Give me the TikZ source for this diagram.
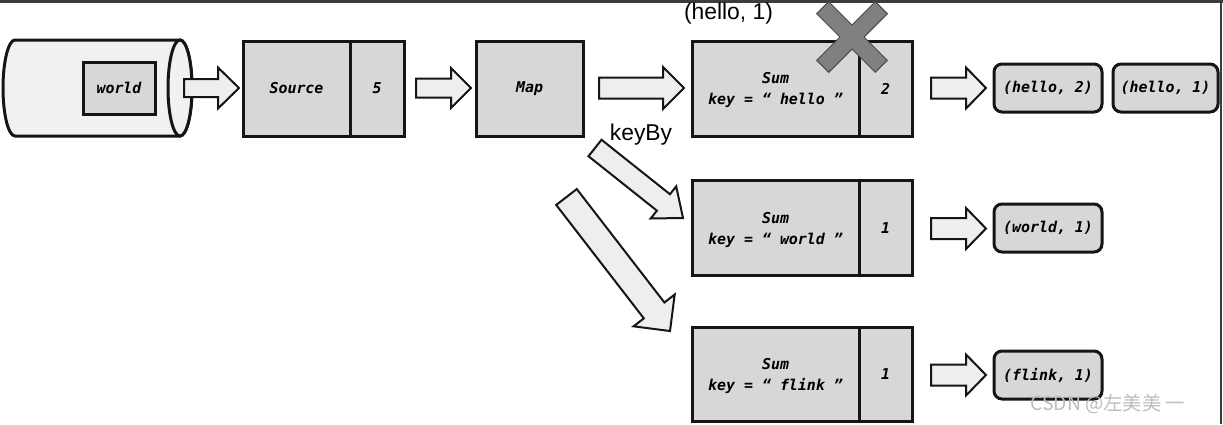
\documentclass[tikz,border=0pt]{standalone}
\usepackage{fontspec}
\setmainfont{Liberation Sans}
\newfontfamily\codefont{DejaVu Sans Mono}
\newfontfamily\cjkfont{Noto Sans CJK SC}
\usetikzlibrary{calc}
\newdimen\pxu \pxu=0.02cm
\definecolor{linec}{HTML}{151515}
\definecolor{boxc}{HTML}{D7D7D7}
\definecolor{arrc}{HTML}{EEEEEE}
\definecolor{cylc}{HTML}{F1F1F1}
\definecolor{xc}{HTML}{808080}
\definecolor{xline}{HTML}{4A4A4A}
\definecolor{topc}{HTML}{3C3C3C}
\definecolor{wmc}{HTML}{BDBDBD}
\tikzset{
  codetext/.style={font=\codefont\bfseries\itshape\fontsize{8.5}{12}\selectfont},
  box/.style={draw=linec, fill=boxc, line width=3\pxu, inner sep=0, outer sep=0,
    minimum height=95\pxu, align=center, codetext},
  sumbox/.style={box, minimum width=167\pxu, text depth=0pt},
  outbox/.style={draw=linec, fill=boxc, line width=3\pxu, rounded corners=8\pxu,
    inner sep=0, outer sep=0, minimum height=48\pxu, codetext},
  barrow/.style={draw=linec, fill=arrc, line width=2\pxu, line join=miter},
  cylbody/.style={draw=linec, fill=cylc, line width=3\pxu},
  xmark/.style={draw=xline, fill=xc, line width=1\pxu, line join=miter},
  plainlabel/.style={inner sep=0, outer sep=0, font=\fontsize{13}{13}\selectfont},
}
% block arrow: #1 tail, #2 tip, #3 shaft half (px), #4 head half (px), #5 head length (px)
\newcommand\blockarrow[5]{%
  \coordinate (ba-A) at (#1);
  \coordinate (ba-B) at (#2);
  \coordinate (ba-H) at ($(ba-B)!#5*0.56906pt!(ba-A)$);
  \draw[barrow] ($(ba-A)!#3*0.56906pt!90:(ba-B)$) -- ($(ba-H)!#3*0.56906pt!90:(ba-B)$)
    -- ($(ba-H)!#4*0.56906pt!90:(ba-B)$) -- (ba-B)
    -- ($(ba-H)!#4*0.56906pt!-90:(ba-B)$) -- ($(ba-H)!#3*0.56906pt!-90:(ba-B)$)
    -- ($(ba-A)!#3*0.56906pt!-90:(ba-B)$) -- cycle;}
\begin{document}
\begin{tikzpicture}[x=0.02cm, y=-0.02cm]
\useasboundingbox (0,0) rectangle (1223,424);
\fill[white] (0,0) rectangle (1223,424);
\fill[topc] (0,0) rectangle (1223,3);
\fill[topc] (1220,0) rectangle (1222,424);

% cylinder
\node[inner sep=0, outer sep=0, minimum width=189\pxu, minimum height=96\pxu] (cyl) at (97.5,88) {};
\draw[cylbody] (15,40) -- (180,40)
  arc[start angle=90, end angle=-90, x radius=6.83pt, y radius=27.32pt]
  -- (15,136)
  arc[start angle=270, end angle=90, x radius=6.83pt, y radius=27.32pt] -- cycle;
\draw[cylbody] (180,88) ellipse[x radius=6.83pt, y radius=27.32pt];
\node[box, minimum width=72\pxu, minimum height=52\pxu] (world) at (119,88) {world};

% boxes
\node[box, minimum width=107\pxu] (src) at (296.5,88.5) {Source};
\node[box, minimum width=54\pxu] (srcn) at (377,88.5) {5};
\node[box, minimum width=107\pxu] (map) at (529.5,88.5) {Map};
\node[sumbox] (sumh) at (775.5,88.5) {Sum\\key = “ hello ”};
\node[box, minimum width=53\pxu] (cnth) at (885.5,88.5) {2};
\node[sumbox] (sumw) at (775.5,228) {Sum\\key = “ world ”};
\node[box, minimum width=53\pxu] (cntw) at (885.5,228) {1};
\node[sumbox, minimum height=94\pxu] (sumf) at (775.5,374) {Sum\\key = “ flink ”};
\node[box, minimum width=53\pxu, minimum height=94\pxu] (cntf) at (885.5,374) {1};

% output boxes
\node[outbox, minimum width=108\pxu] (oh2) at (1048,88) {(hello, 2)};
\node[outbox, minimum width=105\pxu] (oh1) at (1165.5,88) {(hello, 1)};
\node[outbox, minimum width=108\pxu] (ow) at (1048,228) {(world, 1)};
\node[outbox, minimum width=108\pxu] (of) at (1048,375) {(flink, 1)};

% block arrows
\blockarrow{$(cyl.east)+(-8,0)$}{$(src.west)+(-4,-0.5)$}{9}{20.5}{21}
\blockarrow{$(srcn.east)+(12,-0.5)$}{$(map.west)+(-5,-0.5)$}{9.5}{20}{20}
\blockarrow{$(map.east)+(16,-0.5)$}{$(sumh.west)+(-8,-0.5)$}{10.5}{21}{21}
\blockarrow{$(cnth.east)+(19,-0.5)$}{$(oh2.west)+(-8,0)$}{10.5}{20.5}{20}
\blockarrow{$(cntw.east)+(19,0.5)$}{$(ow.west)+(-8,0.5)$}{10.5}{20.5}{20}
\blockarrow{$(cntf.east)+(19,1)$}{$(of.west)+(-8,0)$}{10.5}{20.5}{20}
\blockarrow{$(map.south east)+(12,12)$}{$(sumw.west)+(-9,-10)$}{10.5}{20.5}{25}
\blockarrow{$(map.south east)+(-16.5,61)$}{$(sumf.west)+(-22,-43)$}{13}{26}{26}

% cross mark
\begin{scope}[shift={(852,37)}, rotate=45]
\draw[xmark] (23.6pt,4.84pt) -- (4.84pt,4.84pt) -- (4.84pt,23.6pt) -- (-4.84pt,23.6pt)
  -- (-4.84pt,4.84pt) -- (-23.6pt,4.84pt) -- (-23.6pt,-4.84pt) -- (-4.84pt,-4.84pt)
  -- (-4.84pt,-23.6pt) -- (4.84pt,-23.6pt) -- (4.84pt,-4.84pt) -- (23.6pt,-4.84pt) -- cycle;
\end{scope}

% labels
\node[plainlabel] (lblh) at (728.5,14) {(hello, 1)};
\node[plainlabel] (keyby) at (641,135) {keyBy};
\node[inner sep=0, anchor=west, text=wmc, font=\cjkfont\fontsize{11}{11}\selectfont] (wm) at (1030,404) {CSDN @左美美 一};
\end{tikzpicture}
\end{document}
